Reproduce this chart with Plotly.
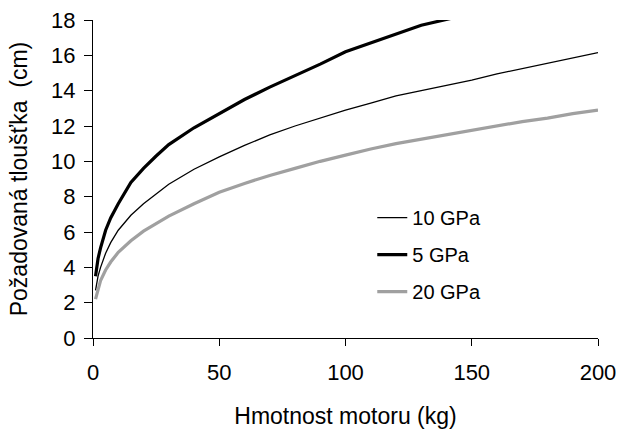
import plotly.graph_objects as go

x_10 = [1, 2, 3, 5, 7, 10, 15, 20, 25, 30, 40, 50, 60, 70, 80, 90, 100, 110, 120, 130, 140, 150, 160, 170, 180, 190, 200]
y_10 = [2.7, 3.5, 4.0, 4.8, 5.4, 6.1, 6.95, 7.6, 8.15, 8.7, 9.55, 10.25, 10.9, 11.5, 12.0, 12.45, 12.9, 13.3, 13.7, 14.0, 14.3, 14.6, 14.95, 15.25, 15.55, 15.85, 16.15]

x_5 = [1, 2, 3, 5, 7, 10, 15, 20, 25, 30, 40, 50, 60, 70, 80, 90, 100, 110, 120, 130, 142]
y_5 = [3.5, 4.5, 5.1, 6.1, 6.8, 7.6, 8.8, 9.6, 10.3, 10.95, 11.9, 12.7, 13.5, 14.2, 14.85, 15.5, 16.2, 16.7, 17.2, 17.7, 18.1]

x_20 = [1, 2, 3, 5, 7, 10, 15, 20, 25, 30, 40, 50, 60, 70, 80, 90, 100, 110, 120, 130, 140, 150, 160, 170, 180, 190, 200]
y_20 = [2.2, 2.8, 3.25, 3.85, 4.3, 4.85, 5.5, 6.05, 6.5, 6.9, 7.6, 8.25, 8.75, 9.2, 9.6, 10.0, 10.35, 10.7, 11.0, 11.25, 11.5, 11.75, 12.0, 12.25, 12.45, 12.7, 12.9]

x_ticks = [0, 50, 100, 150, 200]
y_ticks = [0, 2, 4, 6, 8, 10, 12, 14, 16, 18]

FONT = "Liberation Sans, Arial, sans-serif"

fig = go.Figure()
fig.add_trace(go.Scatter(x=x_10, y=y_10, mode="lines", name="10 GPa",
                         line=dict(color="black", width=1.3), legendgroup="a"))
fig.add_trace(go.Scatter(x=x_5, y=y_5, mode="lines", name="5 GPa",
                         line=dict(color="black", width=3.2), legendgroup="b"))
fig.add_trace(go.Scatter(x=x_20, y=y_20, mode="lines", name="20 GPa",
                         line=dict(color="#a0a0a0", width=3.2), legendgroup="c"))

fig.update_layout(
    width=619, height=429,
    margin=dict(l=93, r=21, t=20, b=91),
    paper_bgcolor="white", plot_bgcolor="white",
    font=dict(family=FONT, size=22, color="black"),
    showlegend=True,
    legend=dict(x=0.553, y=0.44, xanchor="left", yanchor="top",
                font=dict(size=20), bgcolor="rgba(0,0,0,0)",
                traceorder="grouped", tracegroupgap=8,
                itemwidth=30),
    xaxis=dict(range=[0, 200], tickvals=x_ticks, showgrid=False, zeroline=False,
               showline=True, linecolor="black", linewidth=1.3,
               ticks="outside", ticklen=7, tickwidth=1.3, tickcolor="black",
               ticklabelstandoff=7, automargin=False,
               title=dict(text="Hmotnost motoru (kg)", standoff=33,
                          font=dict(size=23))),
    yaxis=dict(range=[0, 18], tickvals=y_ticks, showgrid=False, zeroline=False,
               showline=True, linecolor="black", linewidth=1.3,
               ticks="outside", ticklen=8, tickwidth=1.3, tickcolor="black",
               ticklabelstandoff=4, automargin=False,
               title=dict(text="Požadovaná tloušťka  (cm)", standoff=16,
                          font=dict(size=23))),
)

fig.write_html("out.html",
               config={"displayModeBar": False},
               post_script="document.body.style.margin='0';document.body.style.padding='0';")
